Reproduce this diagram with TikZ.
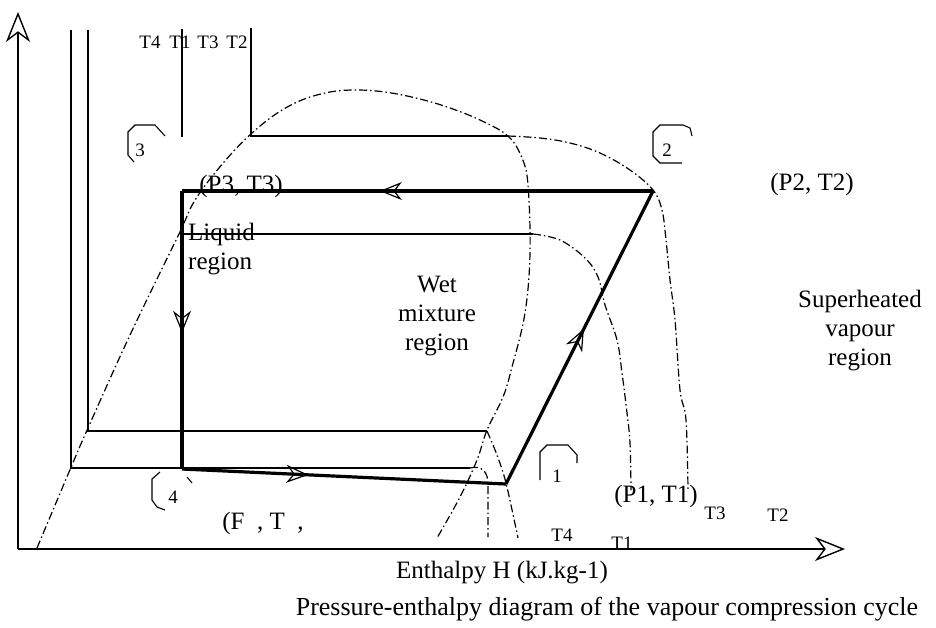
\documentclass[tikz,border=0pt]{standalone}
\usepackage{fontspec}
\setmainfont{Liberation Serif}
\usetikzlibrary{arrows.meta, decorations.markings}

\begin{document}
\begin{tikzpicture}[
    x=1pt, y=-1pt,
    >=Stealth,
    % Define styles for the lines
    axisline/.style={line width=1.4pt, -{Stealth[open, length=30pt, width=24pt, inset=9pt]}},
    isoline/.style={line width=1.3pt},
    satcurve/.style={line width=1.2pt, dash pattern=on 8pt off 3pt on 1.5pt off 3pt},
    cycleline/.style={line width=3.2pt, line join=round},
    tagline/.style={line width=1.1pt},
    midarrow/.style={postaction={decorate}, decoration={markings, mark=at position #1 with {\arrow[line width=1.2pt]{Stealth[open, length=22pt, width=18pt, inset=7pt]}}}},
    % Define styles for the texts
    bigtext/.style={font=\fontsize{25}{29}\selectfont, inner sep=0pt, align=center},
    smalltext/.style={font=\fontsize{19}{21}\selectfont, inner sep=0pt},
]

\path[use as bounding box, fill=white] (0,0) rectangle (936,627);

% -------------------------
% Cycle points and axes
% -------------------------
\coordinate (origin) at (18,549);
\coordinate (ytip) at (18,12);
\coordinate (xtip) at (845,549);
\coordinate (p1) at (506,484);
\coordinate (p2) at (653,191);
\coordinate (p3) at (182,191);
\coordinate (p4) at (182,469);

\draw[axisline] (origin) -- (ytip);
\draw[axisline] (origin) -- (xtip);

% -------------------------
% Isotherms
% -------------------------
\draw[isoline] (71,30) -- (71,468) -- (470,468);
\draw[satcurve] (470,468) .. controls (482,465) and (488,472) .. (488,484) -- (488,537);
\draw[isoline] (88,30) -- (88,431) -- (487,431);
\draw[satcurve] plot[smooth] coordinates {(487,431) (497,455) (506,483) (518,538)};
\draw[isoline] (182,29) -- (182,137);
\draw[isoline] (251,28) -- (251,136) -- (508,136);
\draw[satcurve] plot[smooth, tension=0.6] coordinates {(508,136) (540,138) (570,143) (600,153) (630,170) (653,190) (662,210) (666,240) (670,280) (675,320) (680,390) (686,420) (688,490)};
\draw[isoline] (182,234) -- (533,234);
\draw[satcurve] plot[smooth, tension=0.6] coordinates {(533,234) (560,240) (585,258) (598,277) (605,305) (617,340) (622,373) (627,413) (630,443) (631,490)};

% Saturation dome
\draw[satcurve] plot[smooth, tension=0.6] coordinates {(37,548) (72,465) (88,428) (130,335) (178,236) (197,197) (232,153) (265,122) (295,103) (325,93) (353,90) (385,92) (420,99) (450,108) (480,120) (508,136) (522,158) (528,185) (530,253) (525,313) (512,367) (503,397) (487,430) (477,460) (460,497) (437,538)};

% -------------------------
% Refrigeration cycle
% -------------------------
\draw[cycleline, midarrow=0.58] (p2) -- (p3);
\draw[cycleline, midarrow=0.51] (p3) -- (p4);
\draw[cycleline, midarrow=0.39] (p4) -- (p1);
\draw[cycleline, midarrow=0.53] (p1) -- (p2);

% Point tags
\draw[tagline] (540,480) -- (540,452) -- (547,445) -- (568,445) -- (577,455) -- (577,463);
\draw[tagline] (692,136) -- (690,128) -- (683,125) -- (660,125) -- (653,132) -- (653,156) -- (660,163) -- (682,163);
\draw[tagline] (134,162) -- (128,155) -- (128,132) -- (135,125) -- (155,125) -- (165,136);
\draw[tagline] (165,510) -- (157,507) -- (152,500) -- (152,479) -- (160,472);
\draw[tagline] (187,477) -- (192,483);
\node[smalltext] (tag1) at (557,476) {1};
\node[smalltext] (tag2) at (667,150) {2};
\node[smalltext] (tag3) at (140,150) {3};
\node[smalltext] (tag4) at (173,497) {4};

% -------------------------
% Labels
% -------------------------
\foreach \name/\xpos in {T4/150, T1/180, T3/208, T2/237}
    \node[smalltext] (top\name) at (\xpos,42) {\name};
\foreach \name/\xpos/\ypos in {T4/562/535, T1/622/543, T3/715/513, T2/778/515}
    \node[smalltext] (bot\name) at (\xpos,\ypos) {\name};

\node[bigtext] (p3lbl) at (241,186) {(P3, T3)};
\node[bigtext] (p2lbl) at (812,184) {(P2, T2)};
\node[bigtext] (p1lbl) at (656,496) {(P1, T1)};
\node[bigtext] (p4lbl) at (263,523) {(F\ \ , T\ \ ,};
\node[bigtext, align=left, anchor=west] (liquid) at (188,249) {Liquid\\region};
\node[bigtext] (wet) at (437,316) {Wet\\mixture\\region};
\node[bigtext] (superheat) at (860,331) {Superheated\\vapour\\region};
\node[bigtext] (xlabel) at (502,573) {Enthalpy H (kJ.kg-1)};
\node[bigtext, font=\fontsize{26}{29}\selectfont] (caption) at (607,609) {Pressure-enthalpy diagram of the vapour compression cycle};

\end{tikzpicture}
\end{document}
